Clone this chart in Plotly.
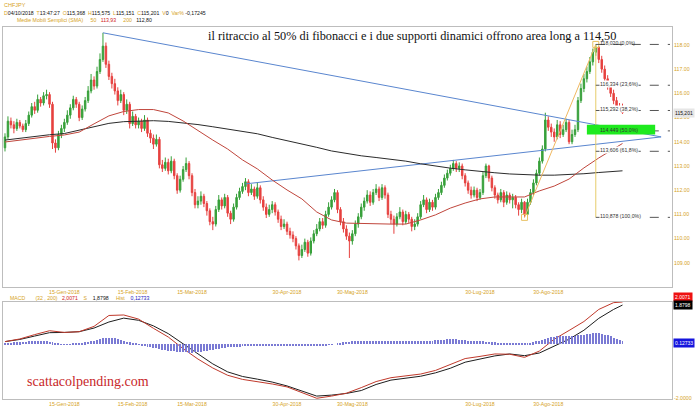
import numpy as np
import pandas as pd
import plotly.graph_objects as go

# ---------------- data ----------------
symbol = "CHFJPY"
first_day = "2017-12-18"
dates = pd.bdate_range(first_day, "2018-10-04")  # 209 daily candles

closes = [
    114.20, 114.85, 114.70, 114.55, 114.80, 114.65, 114.50, 114.75, 115.10, 115.45,
    115.30, 115.75, 115.60, 115.90, 115.95, 115.55, 113.95, 113.75, 114.30, 114.55,
    114.80, 115.10, 115.40, 115.75, 115.55, 115.00, 115.35, 115.70, 116.10, 116.55,
    116.30, 116.90, 117.40, 117.95, 117.20, 116.70, 116.40, 116.10, 115.70, 115.95,
    115.30, 115.55, 114.75, 115.05, 114.70, 114.85, 114.55, 114.90, 114.35, 114.15,
    113.90, 114.10, 113.05, 112.90, 113.15, 112.80, 113.20, 112.60, 112.00, 112.45,
    112.85, 113.10, 112.60, 111.90, 111.40, 111.55, 111.75, 111.45, 111.15, 110.70,
    110.60, 111.20, 111.60, 111.35, 111.70, 111.05, 110.80, 111.30, 111.70, 111.95,
    112.15, 112.35, 111.90, 112.05, 111.75, 112.10, 111.60, 111.30, 111.00, 111.20,
    111.40, 111.10, 110.80, 110.50, 110.60, 110.30, 110.15, 110.00, 109.70, 109.30,
    109.55, 109.85, 109.40, 109.90, 110.20, 110.40, 110.70, 110.55, 111.00, 111.30,
    111.60, 111.90, 111.20, 110.70, 110.40, 110.10, 109.90, 110.20, 110.60, 110.90,
    111.30, 111.55, 111.80, 111.50, 111.90, 112.05, 111.70, 112.10, 111.80, 111.00,
    110.80, 110.60, 110.90, 111.10, 110.70, 111.00, 110.80, 110.50, 110.60, 110.90,
    111.40, 111.60, 111.20, 111.50, 111.30, 111.70, 111.90, 112.20, 112.50, 112.70,
    112.90, 113.10, 112.90, 113.00, 112.60, 112.30, 112.00, 111.80, 112.00, 111.70,
    111.90, 112.60, 113.00, 112.50, 112.10, 111.80, 111.60, 111.90, 111.50, 111.80,
    111.60, 111.70, 111.40, 111.20, 111.50, 111.00, 111.50, 111.90, 112.30, 112.70,
    113.20, 113.70, 114.90, 114.60, 114.40, 114.20, 114.70, 114.30, 114.50, 114.80,
    114.00, 114.30, 114.50, 115.70, 116.20, 116.60, 116.90, 117.30, 117.70, 117.90,
    117.40, 117.00, 116.60, 116.30, 116.00, 115.70, 115.40, 115.368, 115.201,
]
highs = [
    114.35, 115.05, 115.00, 114.85, 114.95, 114.90, 114.75, 114.90, 115.25, 115.60,
    115.65, 115.95, 115.85, 116.05, 116.15, 116.05, 115.65, 114.10, 114.45, 114.70,
    114.95, 115.30, 115.55, 115.90, 115.85, 115.65, 115.50, 115.85, 116.30, 116.80,
    116.70, 117.10, 117.65, 118.50, 118.10, 117.35, 116.85, 116.60, 116.25, 116.15,
    116.05, 115.75, 115.65, 115.25, 115.15, 115.00, 114.95, 115.10, 115.00, 114.50,
    114.30, 114.30, 114.20, 113.25, 113.35, 113.30, 113.40, 113.30, 112.70, 112.60,
    113.00, 113.35, 113.20, 112.70, 112.05, 111.75, 111.95, 111.85, 111.55, 111.25,
    110.90, 111.35, 111.80, 111.70, 111.85, 111.80, 111.15, 111.45, 111.85, 112.10,
    112.30, 112.50, 112.45, 112.25, 112.15, 112.30, 112.20, 111.75, 111.45, 111.40,
    111.55, 111.50, 111.20, 110.95, 110.80, 110.70, 110.45, 110.30, 110.10, 109.80,
    109.75, 110.00, 109.95, 110.05, 110.35, 110.60, 110.85, 110.85, 111.15, 111.50,
    111.75, 112.05, 112.00, 111.30, 110.85, 110.55, 110.25, 110.35, 110.75, 111.05,
    111.45, 111.70, 112.00, 111.95, 112.05, 112.25, 112.15, 112.25, 112.20, 111.90,
    111.15, 110.95, 111.05, 111.30, 111.20, 111.15, 111.10, 110.90, 110.80, 111.05,
    111.55, 111.80, 111.70, 111.65, 111.60, 111.85, 112.05, 112.35, 112.65, 112.85,
    113.05, 113.25, 113.20, 113.15, 113.10, 112.70, 112.40, 112.15, 112.15, 112.10,
    112.05, 112.75, 113.10, 113.05, 112.60, 112.20, 111.90, 112.05, 112.00, 111.95,
    111.90, 111.85, 111.80, 111.50, 111.65, 111.55, 111.65, 112.05, 112.45, 112.85,
    113.35, 113.85, 115.20, 115.05, 114.75, 114.55, 114.90, 114.85, 114.70, 114.95,
    114.90, 114.50, 114.70, 115.85, 116.40, 116.80, 117.10, 117.50, 117.85, 118.02,
    117.95, 117.55, 117.15, 116.75, 116.45, 116.15, 115.85, 115.60, 115.575,
]
lows = [
    113.60, 114.10, 114.55, 114.35, 114.45, 114.55, 114.40, 114.40, 114.65, 115.00,
    115.15, 115.20, 115.45, 115.50, 115.75, 115.40, 113.70, 113.55, 113.65, 114.15,
    114.40, 114.70, 114.95, 115.30, 115.40, 114.85, 114.90, 115.25, 115.60, 116.00,
    116.15, 116.20, 116.80, 117.30, 117.05, 116.55, 116.20, 115.95, 115.50, 115.60,
    115.10, 115.15, 114.55, 114.65, 114.55, 114.55, 114.40, 114.45, 114.20, 113.95,
    113.70, 113.80, 112.90, 112.75, 112.80, 112.65, 112.70, 112.45, 111.85, 111.90,
    112.35, 112.75, 112.45, 111.75, 111.25, 111.25, 111.40, 111.30, 110.95, 110.55,
    110.35, 110.50, 111.10, 111.20, 111.25, 110.90, 110.60, 110.70, 111.20, 111.60,
    111.85, 112.00, 111.75, 111.80, 111.60, 111.65, 111.45, 111.15, 110.85, 110.90,
    111.05, 110.95, 110.65, 110.35, 110.40, 110.15, 110.00, 109.85, 109.55, 109.10,
    109.20, 109.45, 109.25, 109.30, 109.80, 110.10, 110.30, 110.40, 110.45, 110.90,
    111.20, 111.50, 111.05, 110.55, 110.25, 109.95, 109.20, 109.75, 110.10, 110.45,
    110.80, 111.15, 111.45, 111.35, 111.40, 111.80, 111.55, 111.60, 111.65, 110.85,
    110.60, 110.20, 110.50, 110.80, 110.55, 110.60, 110.65, 110.30, 110.35, 110.50,
    110.80, 111.30, 111.05, 111.10, 111.15, 111.20, 111.60, 111.80, 112.10, 112.40,
    112.60, 112.80, 112.75, 112.75, 112.45, 112.15, 111.85, 111.65, 111.70, 111.55,
    111.60, 111.80, 112.50, 112.35, 111.95, 111.65, 111.45, 111.50, 111.30, 111.40,
    111.45, 111.25, 111.25, 110.95, 111.05, 110.878, 110.95, 111.40, 111.80, 112.20,
    112.60, 113.10, 113.60, 114.45, 114.20, 114.00, 114.10, 114.15, 114.20, 114.40,
    113.90, 113.90, 114.20, 114.40, 115.60, 116.05, 116.45, 116.80, 117.15, 117.55,
    117.25, 116.85, 116.45, 116.15, 115.85, 115.55, 115.25, 115.25, 115.151,
]
first_open = 113.75
opens = [first_open] + closes[:-1]  # FX: each session opens at the previous close

# weekly readings (every Monday + last session) of the moving averages and MACD
avg_dates = list(dates[::5]) + [dates[-1]]
sma50 = [113.99, 114.07, 114.16, 114.22, 114.28, 114.40, 114.74, 115.07, 115.25, 115.33,
         115.33, 115.19, 114.86, 114.45, 114.07, 113.70, 113.25, 112.88, 112.42, 112.01,
         111.64, 111.10, 110.77, 110.64, 110.62, 110.60, 110.60, 110.60, 110.77, 110.98,
         111.26, 111.47, 111.64, 111.72, 111.72, 111.72, 111.97, 112.17, 112.46, 112.92,
         113.33, 113.70, 113.93]
sma200 = [114.07, 114.15, 114.24, 114.29, 114.34, 114.48, 114.64, 114.76, 114.83, 114.86,
          114.87, 114.84, 114.79, 114.71, 114.62, 114.52, 114.42, 114.33, 114.18, 114.05,
          113.92, 113.77, 113.62, 113.51, 113.42, 113.35, 113.28, 113.20, 113.09, 112.99,
          112.91, 112.84, 112.77, 112.72, 112.67, 112.63, 112.62, 112.62, 112.64, 112.68,
          112.73, 112.78, 112.80]
macd_line = [0.37, 0.48, 0.66, 0.82, 0.75, 0.78, 1.00, 1.45, 1.47, 1.30,
             0.92, 0.56, 0.08, -0.35, -0.72, -1.02, -1.19, -1.28, -1.38, -1.50,
             -1.72, -1.97, -1.88, -1.76, -1.53, -1.28, -1.12, -1.05, -0.97, -0.82,
             -0.56, -0.33, -0.24, -0.14, -0.15, -0.28, -0.02, 0.47, 0.83, 1.20,
             1.70, 1.98, 2.0071]
macd_signal = [0.37, 0.46, 0.60, 0.74, 0.75, 0.78, 0.93, 1.18, 1.34, 1.25,
               1.02, 0.70, 0.28, -0.12, -0.55, -0.88, -1.07, -1.18, -1.30, -1.46,
               -1.67, -1.88, -1.84, -1.77, -1.65, -1.40, -1.22, -1.15, -1.06, -0.92,
               -0.73, -0.48, -0.34, -0.22, -0.14, -0.21, -0.10, 0.18, 0.47, 0.84,
               1.33, 1.70, 1.8798]
macd_hist = [
    0.02, 0.04, 0.05, 0.06, 0.06, 0.07, 0.08, 0.09, 0.10, 0.10,
    0.11, 0.11, 0.12, 0.11, 0.10, 0.09, 0.06, 0.03, 0.01, -0.01,
    -0.02, -0.02, -0.01, 0.01, 0.03, 0.04, 0.05, 0.06, 0.08, 0.10,
    0.13, 0.16, 0.19, 0.22, 0.24, 0.25, 0.24, 0.22, 0.19, 0.16,
    0.12, 0.09, 0.06, 0.03, 0.01, -0.02, -0.05, -0.08, -0.10, -0.12,
    -0.14, -0.17, -0.20, -0.22, -0.24, -0.25, -0.27, -0.28, -0.30, -0.31,
    -0.32, -0.32, -0.33, -0.33, -0.32, -0.31, -0.30, -0.28, -0.26, -0.24,
    -0.22, -0.20, -0.18, -0.16, -0.14, -0.13, -0.12, -0.11, -0.10, -0.10,
    -0.09, -0.09, -0.08, -0.08, -0.08, -0.08, -0.08, -0.07, -0.07, -0.07,
    -0.07, -0.07, -0.07, -0.07, -0.06, -0.06, -0.06, -0.06, -0.06, -0.07,
    -0.07, -0.08, -0.08, -0.08, -0.07, -0.07, -0.06, -0.05, -0.04, -0.03,
    -0.02, 0.00, 0.02, 0.04, 0.06, 0.08, 0.09, 0.10, 0.11, 0.12,
    0.12, 0.13, 0.13, 0.13, 0.13, 0.12, 0.12, 0.12, 0.11, 0.11,
    0.10, 0.10, 0.10, 0.10, 0.10, 0.10, 0.10, 0.10, 0.10, 0.10,
    0.10, 0.11, 0.11, 0.12, 0.13, 0.14, 0.15, 0.16, 0.17, 0.18,
    0.19, 0.19, 0.18, 0.17, 0.15, 0.14, 0.13, 0.12, 0.11, 0.10,
    0.10, 0.10, 0.09, 0.08, 0.07, 0.06, 0.05, 0.04, 0.03, 0.02,
    0.02, 0.01, 0.01, 0.01, 0.02, 0.02, 0.03, 0.05, 0.07, 0.10,
    0.13, 0.17, 0.21, 0.24, 0.27, 0.28, 0.29, 0.30, 0.30, 0.31,
    0.31, 0.31, 0.32, 0.33, 0.34, 0.35, 0.37, 0.39, 0.41, 0.42,
    0.41, 0.39, 0.36, 0.33, 0.29, 0.24, 0.20, 0.16, 0.12733,
]

tick_dates = ["2018-01-15", "2018-02-15", "2018-03-15", "2018-04-30",
              "2018-05-30", "2018-07-30", "2018-08-30"]
tick_labels = ["15-Gen-2018", "15-Feb-2018", "15-Mar-2018", "30-Apr-2018",
               "30-Mag-2018", "30-Lug-2018", "30-Ago-2018"]
price_ticks = [109, 110, 111, 112, 113, 114, 115, 116, 117, 118]

trend_down_dates, trend_down_prices = ["2018-02-01", "2018-10-23"], [118.50, 114.20]
trend_up_dates, trend_up_prices = ["2018-04-10", "2018-10-23"], [112.26, 114.20]
fib_low_date, fib_low = "2018-08-20", 110.878
fib_high_date, fib_high = "2018-09-21", 118.020
fib_end_date = "2018-10-26"
fib_ratios = [0.0, 0.236, 0.382, 0.5, 0.618, 1.0]
zone_dates, zone_prices = ["2018-09-18", "2018-10-19"], [114.30, 114.70]
view_dates = ["2017-12-18", "2018-10-26"]

title_text = "il ritraccio al 50% di fibonacci e i due supporti dinamici offrono area long a 114,50"
watermark = "scattacolpending.com"


def pos(d):
    """trading-session position of a date on the chart (weekends skipped)"""
    return int(np.busday_count(first_day, pd.Timestamp(d).strftime("%Y-%m-%d")))


# ---------------- style ----------------
GOLD = "#d6a31e"
GREEN = "#37a03a"
RED = "#e6413f"
FRAME = "#bdbdbd"
SANS = "Liberation Sans, Arial, sans-serif"
SERIF = "Liberation Serif, Times New Roman, serif"

xs = [pos(d) for d in dates]
avg_x = [pos(d) for d in avg_dates]

fig = go.Figure()

# trend lines
fig.add_trace(go.Scatter(x=[pos(d) for d in trend_down_dates], y=trend_down_prices, mode="lines",
                         line=dict(color="#5a86cf", width=1), hoverinfo="skip"))
fig.add_trace(go.Scatter(x=[pos(d) for d in trend_up_dates], y=trend_up_prices, mode="lines",
                         line=dict(color="#5a86cf", width=1), hoverinfo="skip"))

# moving averages
fig.add_trace(go.Scatter(x=avg_x, y=sma200, mode="lines",
                         line=dict(color="#2b2b2b", width=1), hoverinfo="skip"))
fig.add_trace(go.Scatter(x=avg_x, y=sma50, mode="lines",
                         line=dict(color="#c0463c", width=1), hoverinfo="skip"))

# candles
fig.add_trace(go.Candlestick(
    x=xs, open=opens, high=highs, low=lows, close=closes,
    increasing=dict(line=dict(color=GREEN, width=1), fillcolor=GREEN),
    decreasing=dict(line=dict(color=RED, width=1), fillcolor=RED),
    whiskerwidth=0, hoverinfo="skip", name=symbol))

# fibonacci tool
fib_levels = [fib_high - r * (fib_high - fib_low) for r in fib_ratios]
fx_low, fx_high, fx_end = pos(fib_low_date), pos(fib_high_date), pos(fib_end_date)
fig.add_trace(go.Scatter(x=[fx_low, fx_high], y=[fib_low, fib_high], mode="lines",
                         line=dict(color="#f0b860", width=1), hoverinfo="skip"))
fig.add_trace(go.Scatter(x=[fx_high, fx_high], y=[fib_high, fib_low], mode="lines",
                         line=dict(color="#e6cc6a", width=1), hoverinfo="skip"))
fig.add_trace(go.Scatter(x=[fx_low, fx_high], y=[fib_low, fib_high], mode="markers",
                         marker=dict(symbol="square-open", size=6, color="#e8c060",
                                     line=dict(width=1, color="#e8c060")), hoverinfo="skip"))
for lvl in fib_levels:
    fig.add_trace(go.Scatter(x=[fx_high, fx_end], y=[lvl, lvl], mode="lines",
                             line=dict(color="#555555", width=1, dash="dash"), hoverinfo="skip"))

fig.add_shape(type="rect", xref="x", yref="y", x0=pos(zone_dates[0]), x1=pos(zone_dates[1]),
              y0=zone_prices[0], y1=zone_prices[1], fillcolor="#1fea1f",
              line=dict(width=0), layer="above")

# MACD panel
fig.add_trace(go.Bar(x=xs, y=macd_hist, xaxis="x2", yaxis="y3",
                     marker=dict(color="#7a7ad4", line=dict(width=0)),
                     width=0.33, hoverinfo="skip"))
fig.add_trace(go.Scatter(x=avg_x, y=macd_signal, xaxis="x2", yaxis="y2", mode="lines",
                         line=dict(color="#1e1e1e", width=1), hoverinfo="skip"))
fig.add_trace(go.Scatter(x=avg_x, y=macd_line, xaxis="x2", yaxis="y2", mode="lines",
                         line=dict(color="#c0392b", width=1), hoverinfo="skip"))

# ---------------- annotations ----------------
ann = []
for r, lvl in zip(fib_ratios, fib_levels):
    txt = f"{lvl:.3f}".replace(".", ",") + " (" + f"{r * 100:.1f}".replace(".", ",") + "%)"
    ann.append(dict(x=fx_high, y=lvl, xref="x", yref="y", text=txt, showarrow=False,
                    xanchor="left", yanchor="middle", xshift=3, yshift=1,
                    font=dict(family=SANS, size=5.2, color="#333333"),
                    bgcolor="rgba(0,0,0,0)" if r in (0.0, 0.5) else "white", borderpad=0))

ann.append(dict(x=0.611, y=0.976, xref="paper", yref="paper", text=title_text, showarrow=False,
                xanchor="center", yanchor="middle", font=dict(family=SERIF, size=12.3, color="#111111")))
ann.append(dict(x=0.033, y=0.048, xref="paper", yref="paper", text=watermark, showarrow=False,
                xanchor="left", yanchor="middle", font=dict(family=SERIF, size=14, color="#c8282a")))


def g(t):
    return f'<span style="color:{GOLD}">{t}</span>'


ann.append(dict(x=0, y=1.059, xref="paper", yref="paper", text=g(symbol), showarrow=False,
                xanchor="left", yanchor="middle", xshift=-1, font=dict(family=SANS, size=5.5, color=GOLD)))
hdr = (g("D") + "04/10/2018  " + g("T") + "13:47:27  " + g("O") + "115,368  " + g("H") + "115,575  "
       + g("L") + "115,151  " + g("C") + "115,201  " + g("V") + "0  " + g("Var%") + " -0,17245")
ann.append(dict(x=0, y=1.038, xref="paper", yref="paper", text=hdr, showarrow=False,
                xanchor="left", yanchor="middle", xshift=-1, font=dict(family=SANS, size=5.2, color="#111111")))
sma_txt = (g("Medie Mobili Semplici (SMA)") + "     " + g("50") + '   <span style="color:#d02020">113,93</span>'
           + "     " + g("200") + "   112,80")
ann.append(dict(x=0.018, y=1.019, xref="paper", yref="paper", text=sma_txt, showarrow=False,
                xanchor="left", yanchor="middle", font=dict(family=SANS, size=5.2, color="#111111")))
macd_txt = (g("MACD") + "       " + g("(32 , 200)") + '   <span style="color:#d02020">2,0071</span>'
            + "    " + g("S") + "    1,8798     " + g("Hist") + '    <span style="color:#2020c0">0,12733</span>')
ann.append(dict(x=0.0075, y=0.272, xref="paper", yref="paper", text=macd_txt, showarrow=False,
                xanchor="left", yanchor="middle", font=dict(family=SANS, size=5.2, color="#111111")))

# value boxes on the right
box_font = dict(family=SANS, size=5, color="white")
ann.append(dict(x=1, y=closes[-1], xref="paper", yref="y", text=f"{closes[-1]:.3f}".replace(".", ","),
                showarrow=False, xanchor="left", yanchor="middle", xshift=1,
                font=dict(family=SANS, size=5, color="#111111"), bgcolor="#e6e6e6", borderpad=1))
ann.append(dict(x=1, y=0.274, xref="paper", yref="paper", text=f"{macd_line[-1]:.4f}", showarrow=False,
                xanchor="left", yanchor="middle", xshift=1, font=box_font, bgcolor="#ee1111", borderpad=1))
ann.append(dict(x=1, y=0.253, xref="paper", yref="paper", text=f"{macd_signal[-1]:.4f}", showarrow=False,
                xanchor="left", yanchor="middle", xshift=1, font=box_font, bgcolor="#000000", borderpad=1))
ann.append(dict(x=1, y=0.1505, xref="paper", yref="paper", text=f"{macd_hist[-1]:.5f}", showarrow=False,
                xanchor="left", yanchor="middle", xshift=1, font=box_font, bgcolor="#1515dd", borderpad=1))

x_lo, x_hi = pos(view_dates[0]) - 0.67, pos(view_dates[1]) + 0.67
axis_common = dict(range=[x_lo, x_hi], tickvals=[pos(d) for d in tick_dates], ticktext=tick_labels,
                   tickfont=dict(size=5.2, color=GOLD, family=SANS), showgrid=False, zeroline=False,
                   showline=True, mirror=True, linecolor=FRAME, linewidth=1, ticks="", ticklen=0,
                   automargin=False)

fig.update_layout(
    width=700, height=414, margin=dict(l=3, r=28, t=27, b=15, autoexpand=False),
    paper_bgcolor="white", plot_bgcolor="white", showlegend=False, bargap=0,
    font=dict(family=SANS, size=6, color=GOLD),
    xaxis=dict(domain=[0, 1], anchor="y", rangeslider=dict(visible=False), **axis_common),
    yaxis=dict(domain=[0.301, 1], anchor="x", side="right", range=[108.0, 118.74],
               tickvals=price_ticks, ticktext=[f"{v:.2f}" for v in price_ticks],
               tickfont=dict(size=5.2, color=GOLD, family=SANS), showgrid=False, zeroline=False,
               showline=True, mirror=True, linecolor=FRAME, linewidth=1, ticks="", automargin=False),
    xaxis2=dict(domain=[0, 1], anchor="y2", matches="x", **axis_common),
    yaxis2=dict(domain=[0, 0.2608], anchor="x2", side="right", range=[-2.0, 2.0071],
                tickvals=[-1.96], ticktext=["-2.0000"], tickfont=dict(size=5.2, color=GOLD, family=SANS),
                showgrid=False, zeroline=False, showline=True, mirror=True, linecolor=FRAME,
                linewidth=1, ticks="", automargin=False),
    yaxis3=dict(overlaying="y2", anchor="x2", range=[-2.115, 1.615], visible=False),
    annotations=ann,
)

# the page's default 8px body margin would push the 700x414 figure off the window
fig.write_html("out.html", config={"displayModeBar": False},
               post_script="document.body.style.margin='0';document.body.style.padding='0';"
                           "document.body.style.overflow='hidden';")
